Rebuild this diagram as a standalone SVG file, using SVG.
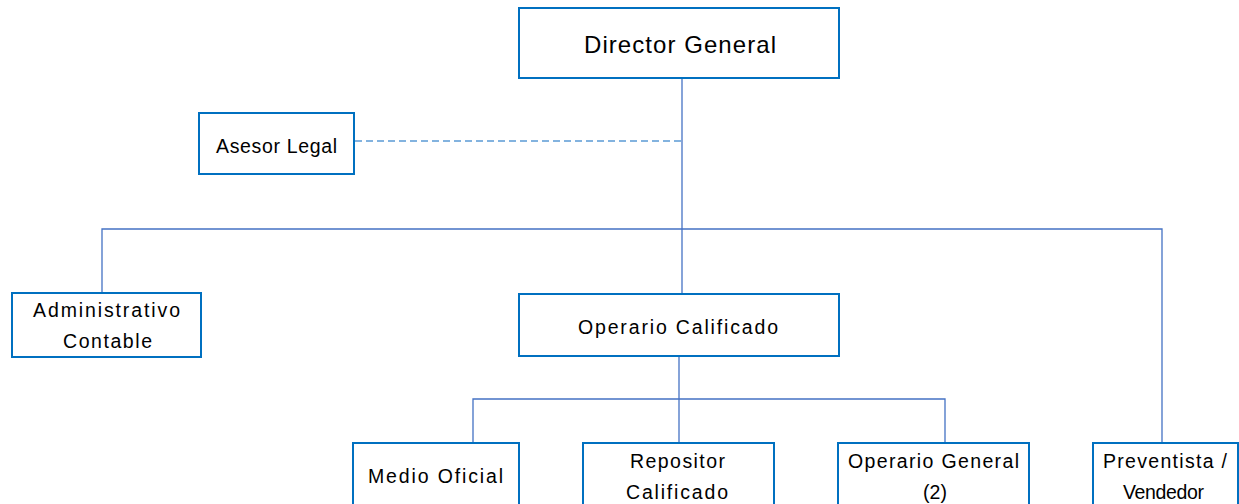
<svg xmlns="http://www.w3.org/2000/svg" width="1239" height="504" viewBox="0 0 1239 504">
<style>
.box{fill:#fff;stroke:#0070C0;stroke-width:2}
.ln{fill:none;stroke:#4472C4;stroke-width:1.3}
.dash{fill:none;stroke:#5B9BD5;stroke-width:1.6;stroke-dasharray:7 4}
text{font-family:"Liberation Sans","DejaVu Sans",sans-serif;font-size:19.5px;fill:#000;text-anchor:middle}
.big{font-size:24px}
</style>
<rect width="1239" height="504" fill="#fff"/>
<g id="connectors">
<line class="ln" x1="682" y1="78" x2="682" y2="294"/>
<line class="dash" x1="355" y1="141" x2="682" y2="141"/>
<polyline class="ln" points="102,293 102,229 1162,229 1162,443"/>
<line class="ln" x1="679" y1="356" x2="679" y2="443"/>
<polyline class="ln" points="473,443 473,399 945,399 945,443"/>
</g>
<g id="director">
<rect class="box" x="519" y="8" width="320" height="70"/>
<text class="big" x="680" y="53" textLength="192" lengthAdjust="spacing">Director General</text>
</g>
<g id="asesor">
<rect class="box" x="199" y="113" width="155" height="61"/>
<text x="276.5" y="153" textLength="121" lengthAdjust="spacing">Asesor Legal</text>
</g>
<g id="administrativo">
<rect class="box" x="12" y="293" width="189" height="64"/>
<text x="106.5" y="317" textLength="147" lengthAdjust="spacing">Administrativo</text>
<text x="107.5" y="348" textLength="89" lengthAdjust="spacing">Contable</text>
</g>
<g id="operario-calificado">
<rect class="box" x="519" y="294" width="320" height="62"/>
<text x="678" y="334" textLength="200" lengthAdjust="spacing">Operario Calificado</text>
</g>
<g id="medio-oficial">
<rect class="box" x="353" y="443" width="166" height="80"/>
<text x="435.5" y="483" textLength="135" lengthAdjust="spacing">Medio Oficial</text>
</g>
<g id="repositor">
<rect class="box" x="583" y="443" width="191" height="80"/>
<text x="677.5" y="468" textLength="95" lengthAdjust="spacing">Repositor</text>
<text x="677" y="499" textLength="102" lengthAdjust="spacing">Calificado</text>
</g>
<g id="operario-general">
<rect class="box" x="838" y="443" width="191" height="80"/>
<text x="933.5" y="468" textLength="171" lengthAdjust="spacing">Operario General</text>
<text x="935" y="499">(2)</text>
</g>
<g id="preventista">
<rect class="box" x="1093" y="443" width="145" height="80"/>
<text x="1165" y="468" textLength="124" lengthAdjust="spacing">Preventista /</text>
<text x="1163.5" y="499" textLength="81" lengthAdjust="spacing">Vendedor</text>
</g>
</svg>
